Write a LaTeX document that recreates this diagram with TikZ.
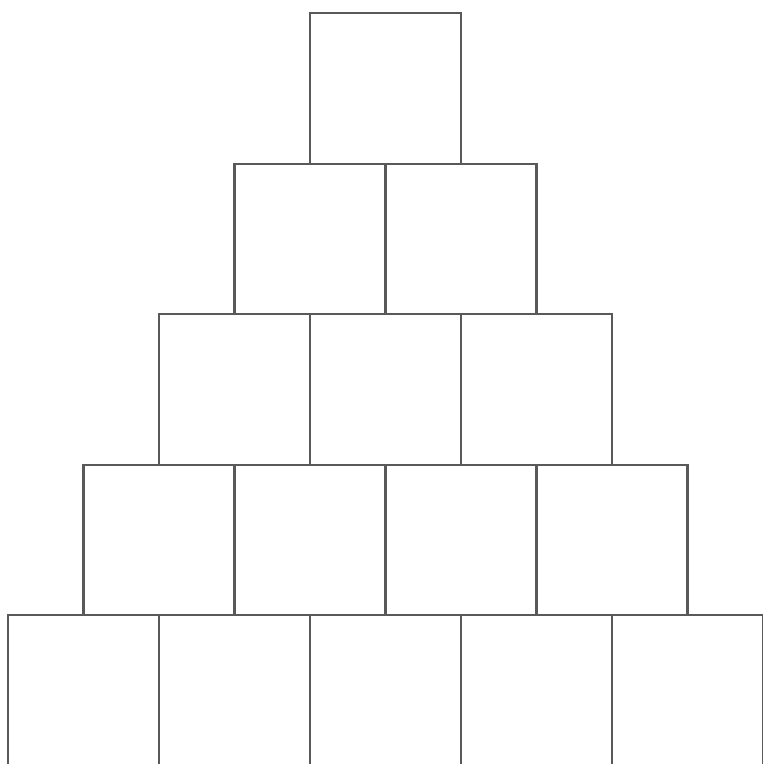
\documentclass[tikz,border=0pt]{standalone}
\usepackage{tikz}
\usetikzlibrary{calc, positioning}

\begin{document}
\begin{tikzpicture}[brick/.style={draw=black!65, line width=0.6pt, minimum width=1.51cm, minimum height=1.505cm, inner sep=0pt, outer sep=0pt}]
    % Khung hình
    \useasboundingbox (0,0) rectangle (7.63,-7.64);
    \fill[white] (0,0) rectangle (7.63,-7.64);
    % Các hàng gạch của kim tự tháp
    \foreach \r in {1,...,5}{
        \foreach \c in {1,...,\r}{
            \node[brick] (b-\r-\c) at ({3.855+(\c-(\r+1)/2)*1.51}, {-(0.883+(\r-1)*1.505)}) {};
        }
    }
\end{tikzpicture}
\end{document}
